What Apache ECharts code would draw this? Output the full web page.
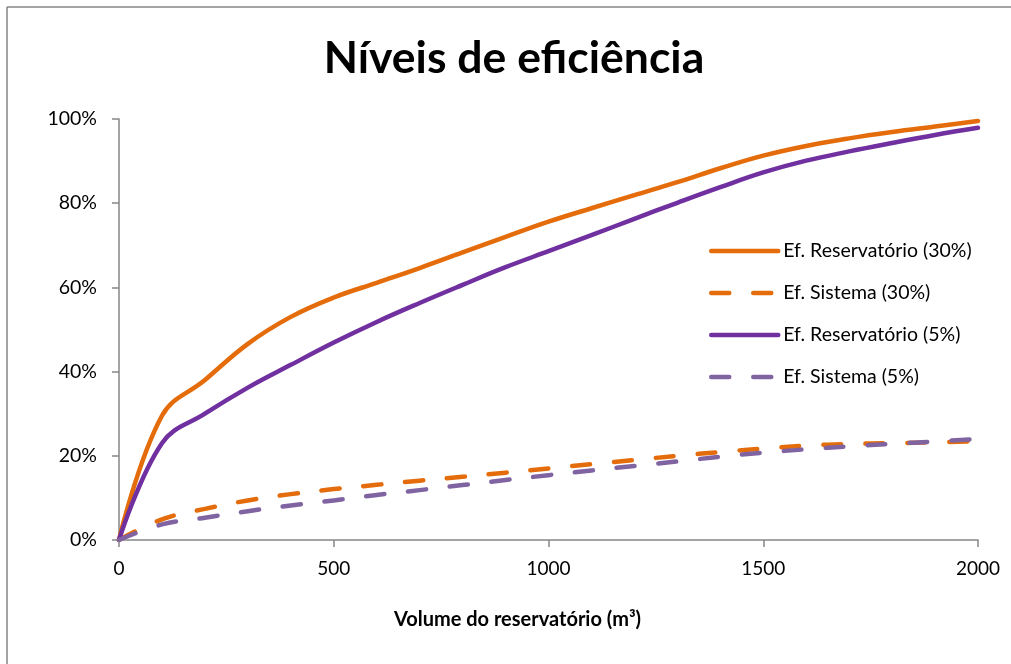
<!DOCTYPE html>
<html>
<head>
<meta charset="utf-8">
<script src="https://cdn.jsdelivr.net/npm/echarts@6/dist/echarts.min.js"></script>
<style>
  html, body { margin: 0; padding: 0; background: #ffffff; overflow: hidden; }
  #chart { width: 1011px; height: 664px; }
</style>
</head>
<body>
<div id="chart"></div>
<script>
// Reservoir volume (m³) and efficiency levels (%)
const volumes = [0, 100, 200, 300, 400, 500, 600, 700, 800, 900, 1000,
                 1100, 1200, 1300, 1400, 1500, 1600, 1700, 1800, 1900, 2000];
const efReservatorio30 = [0, 29.5, 38.0, 46.6, 53.0, 57.6, 61.1, 64.6, 68.3, 72.0, 75.6,
                          78.8, 81.9, 85.0, 88.3, 91.3, 93.6, 95.4, 96.9, 98.2, 99.5];
const efSistema30 = [0, 4.9, 7.4, 9.4, 10.9, 12.1, 13.1, 14.1, 15.0, 16.0, 17.0,
                     18.0, 19.0, 20.0, 20.9, 21.7, 22.4, 22.8, 23.0, 23.2, 23.5];
const efReservatorio5 = [0, 23.0, 30.0, 36.2, 41.6, 46.9, 51.8, 56.3, 60.6, 64.8, 68.6,
                         72.4, 76.3, 80.1, 83.8, 87.3, 90.1, 92.3, 94.3, 96.2, 97.9];
const efSistema5 = [0, 3.7, 5.3, 6.85, 8.2, 9.4, 10.7, 11.85, 13.05, 14.25, 15.4,
                    16.5, 17.6, 18.65, 19.8, 20.75, 21.55, 22.25, 22.85, 23.4, 24.0];

const seriesNames = ['Ef. Reservatório (30%)', 'Ef. Sistema (30%)',
                     'Ef. Reservatório (5%)', 'Ef. Sistema (5%)'];
const xTickStep = 500;
const yTickStep = 20;

const ORANGE = '#E46C0A';
const PURPLE = '#7030A0';
const LILAC = '#8064A2';
const AXIS = '#868686';
const FONT = 'Lato, "Open Sans", sans-serif';
const DASH = [18, 24];
const LINE_W = 4.5;

const pairs = arr => volumes.map((v, i) => [v, arr[i]]);

function lineSeries(name, values, color, dashed) {
  return {
    name: name,
    type: 'line',
    data: pairs(values),
    smooth: 0.4,
    showSymbol: false,
    symbol: 'none',
    animation: false,
    itemStyle: { color: color },
    lineStyle: {
      color: color,
      width: LINE_W,
      type: dashed ? DASH : 'solid',
      cap: 'round',
      join: 'round'
    }
  };
}

const chart = echarts.init(document.getElementById('chart'), null, { renderer: 'canvas' });

chart.setOption({
  backgroundColor: '#ffffff',
  animation: false,
  title: {
    text: 'Níveis de eficiência',
    left: 509,
    top: 31,
    textAlign: 'center',
    textStyle: { fontFamily: FONT, fontWeight: 'bold', fontSize: 44.5, color: '#000000' }
  },
  // chart frame: only its top and left edges fall inside the page
  graphic: [
    { type: 'line', shape: { x1: 7, y1: 7, x2: 1011, y2: 7 },
      style: { stroke: AXIS, lineWidth: 1.5 }, silent: true },
    { type: 'line', shape: { x1: 7, y1: 7, x2: 7, y2: 664 },
      style: { stroke: AXIS, lineWidth: 1.5 }, silent: true }
  ],
  legend: {
    orient: 'vertical',
    left: 709,
    top: 240,
    padding: 0,
    itemWidth: 67,
    itemHeight: 22,
    itemGap: 20,
    data: seriesNames,
    itemStyle: { opacity: 0 },
    lineStyle: { width: LINE_W, cap: 'round' },
    textStyle: { fontFamily: FONT, fontSize: 19.5, color: '#000000', lineHeight: 22 }
  },
  grid: { left: 119, right: 33, top: 119, bottom: 124, containLabel: false },
  xAxis: {
    type: 'value',
    min: 0,
    max: 2000,
    interval: xTickStep,
    name: 'Volume do reservatório (m³)',
    nameLocation: 'middle',
    nameGap: 70,
    nameTextStyle: { fontFamily: FONT, fontWeight: 'bold', fontSize: 20, color: '#000000',
                     padding: [0, 62, 0, 0] },
    axisLine: { show: true, lineStyle: { color: AXIS, width: 1.5 } },
    axisTick: { show: true, inside: false, length: 7, lineStyle: { color: AXIS, width: 1.5 } },
    axisLabel: { fontFamily: FONT, fontSize: 19, color: '#000000', margin: 19,
                 formatter: v => String(v) },
    splitLine: { show: false }
  },
  yAxis: {
    type: 'value',
    min: 0,
    max: 100,
    interval: yTickStep,
    axisLine: { show: true, lineStyle: { color: AXIS, width: 1.5 } },
    axisTick: { show: true, inside: false, length: 7, lineStyle: { color: AXIS, width: 1.5 } },
    axisLabel: { fontFamily: FONT, fontSize: 19.5, color: '#000000', margin: 22,
                 formatter: '{value}%' },
    splitLine: { show: false }
  },
  series: [
    lineSeries(seriesNames[0], efReservatorio30, ORANGE, false),
    lineSeries(seriesNames[1], efSistema30, ORANGE, true),
    lineSeries(seriesNames[2], efReservatorio5, PURPLE, false),
    lineSeries(seriesNames[3], efSistema5, LILAC, true)
  ]
});
</script>
</body>
</html>
